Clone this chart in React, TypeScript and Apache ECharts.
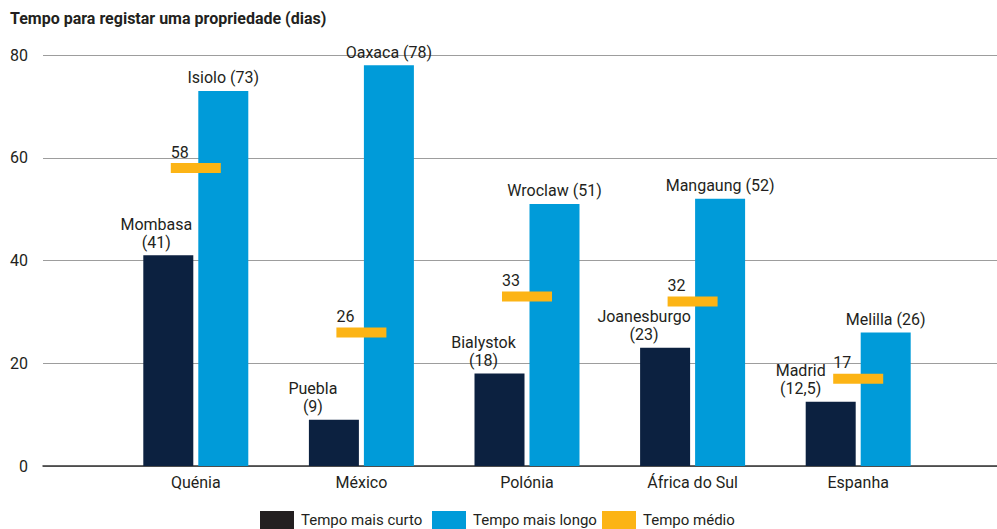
import React, { useEffect, useRef } from "react";
import * as echarts from "echarts";

const titleText = "Tempo para registar uma propriedade (dias)";
const categories = ["Quénia", "México", "Polónia", "África do Sul", "Espanha"];
const shortestCities = ["Mombasa", "Puebla", "Bialystok", "Joanesburgo", "Madrid"];
const shortestDays = [41, 9, 18, 23, 12.5];
const longestCities = ["Isiolo", "Oaxaca", "Wroclaw", "Mangaung", "Melilla"];
const longestDays = [73, 78, 51, 52, 26];
const averageDays = [58, 26, 33, 32, 17];
const seriesNames = ["Tempo mais curto", "Tempo mais longo", "Tempo médio"];
const yMin = 0;
const yMax = 80;
const yInterval = 20;

// label horizontal shifts for the shortest-time labels (styling, not data)
const shortLabelShift = [-12, -21, -16, -21, -30];

const TEXT = "#231f20";
const DARK = "#0c2140";
const BLUE = "#009bd9";
const ORANGE = "#fcb415";
const FONT = "Roboto";

const fmt = (v: number) => String(v).replace(".", ",");

export default function App() {
  const ref = useRef<HTMLDivElement>(null);
  useEffect(() => {
    if (!ref.current) return;
    const chart = echarts.init(ref.current, undefined, { renderer: "svg" });
    const labelBase = { color: TEXT, fontSize: 16, fontFamily: FONT };
    const legendBase = {
      top: 511,
      padding: 0,
      icon: "rect",
      itemWidth: 34,
      itemHeight: 18,
      textStyle: { color: TEXT, fontSize: 15, fontFamily: FONT, padding: [0, 0, 0, 2] },
      selectedMode: false,
    };
    chart.setOption({
      animation: false,
      textStyle: { fontFamily: FONT },
      title: {
        text: titleText,
        left: 10,
        top: 10,
        padding: 0,
        textStyle: { color: TEXT, fontSize: 16, fontWeight: "bold", fontFamily: FONT },
      },
      legend: [
        { ...legendBase, left: 260, data: [{ name: seriesNames[0], itemStyle: { color: TEXT } }] },
        { ...legendBase, left: 432, data: [{ name: seriesNames[1], itemStyle: { color: BLUE } }] },
        { ...legendBase, left: 602, data: [{ name: seriesNames[2], itemStyle: { color: ORANGE, opacity: 1 } }] },
      ],
      grid: [
        { left: 43, right: 0, top: 55, bottom: 63 },
        { left: 113, right: 56, top: 55, bottom: 63 },
      ],
      xAxis: [
        {
          gridIndex: 0,
          type: "value",
          min: 0,
          max: 1,
          axisLine: { show: true, lineStyle: { color: "#333333", width: 1.5 } },
          axisTick: { show: false },
          axisLabel: { show: false },
          splitLine: { show: false },
        },
        {
          gridIndex: 1,
          type: "category",
          data: categories,
          axisLine: { show: false },
          axisTick: { show: false },
          axisLabel: { ...labelBase, margin: 8 },
          splitLine: { show: false },
        },
      ],
      yAxis: [
        {
          gridIndex: 0,
          type: "value",
          min: yMin,
          max: yMax,
          interval: yInterval,
          axisLine: { show: false },
          axisTick: { show: false },
          axisLabel: { ...labelBase, margin: 15 },
          splitLine: { show: true, lineStyle: { color: "#9d9d9d", width: 1 } },
        },
        {
          gridIndex: 1,
          type: "value",
          min: yMin,
          max: yMax,
          interval: yInterval,
          show: false,
          splitLine: { show: false },
        },
      ],
      series: [
        {
          name: seriesNames[0],
          type: "bar",
          xAxisIndex: 1,
          yAxisIndex: 1,
          barWidth: 50,
          barGap: "10%",
          itemStyle: { color: DARK },
          data: shortestDays.map((v, i) => ({
            value: v,
            label: {
              show: true,
              position: "top",
              distance: 4,
              offset: [shortLabelShift[i], 0],
              lineHeight: 18,
              ...labelBase,
              formatter: () => `${shortestCities[i]}\n(${fmt(v)})`,
            },
          })),
        },
        {
          name: seriesNames[1],
          type: "bar",
          xAxisIndex: 1,
          yAxisIndex: 1,
          barWidth: 50,
          barGap: "10%",
          itemStyle: { color: BLUE },
          label: {
            show: true,
            position: "top",
            distance: 5,
            ...labelBase,
            formatter: (p: any) => `${longestCities[p.dataIndex]} (${fmt(p.value)})`,
          },
          data: longestDays,
        },
        {
          name: seriesNames[2],
          type: "scatter",
          xAxisIndex: 1,
          yAxisIndex: 1,
          symbol: "rect",
          symbolSize: [50, 10],
          z: 5,
          itemStyle: { color: ORANGE, opacity: 1 },
          emphasis: { disabled: true },
          label: {
            show: true,
            position: [0, -3],
            align: "left",
            verticalAlign: "bottom",
            ...labelBase,
            formatter: (p: any) => fmt(Array.isArray(p.value) ? p.value[1] : p.value),
          },
          data: averageDays,
        },
      ],
    });
    return () => chart.dispose();
  }, []);
  return <div ref={ref} style={{ width: 997, height: 529, position: "absolute", left: 0, top: 0 }} />;
}
